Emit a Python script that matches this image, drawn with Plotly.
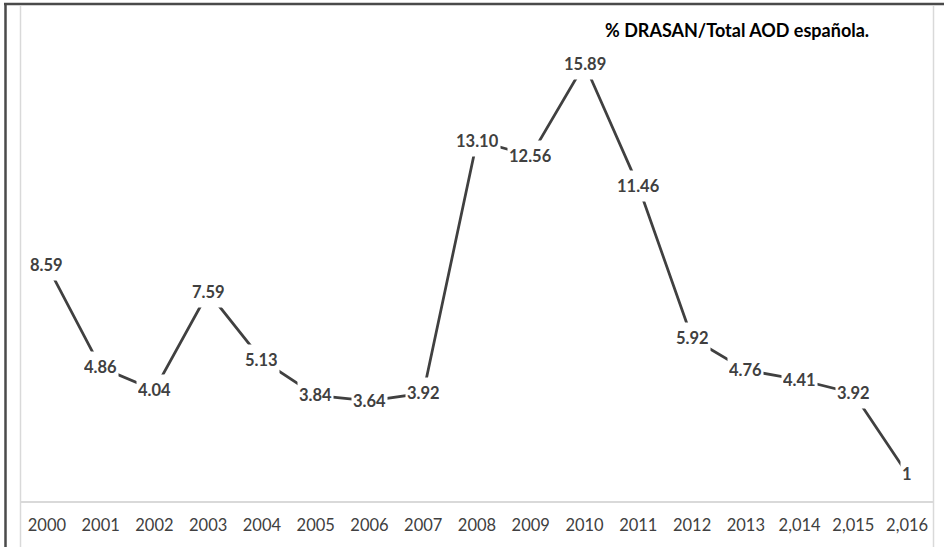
import plotly.graph_objects as go

years = ["2000", "2001", "2002", "2003", "2004", "2005", "2006", "2007", "2008",
         "2009", "2010", "2011", "2012", "2013", "2,014", "2,015", "2,016"]
values = [8.59, 4.86, 4.04, 7.59, 5.13, 3.84, 3.64, 3.92, 13.10,
          12.56, 15.89, 11.46, 5.92, 4.76, 4.41, 3.92, 1]
labels = ["8.59", "4.86", "4.04", "7.59", "5.13", "3.84", "3.64", "3.92", "13.10",
          "12.56", "15.89", "11.46", "5.92", "4.76", "4.41", "3.92", "1"]
title_text = "% DRASAN/Total AOD española."

W, H = 944, 547
ML, MR, MT, MB = 20, 10, 6, 46
pw = W - ML - MR
ph = H - MT - MB

def px_x(p):
    return (p - ML) / pw

def px_y(p):
    return (H - MB - p) / ph

fig = go.Figure()
fig.add_trace(go.Scatter(
    x=years, y=values, mode="lines",
    line=dict(color="#404040", width=2.75),
    hoverinfo="skip", showlegend=False,
))

annotations = []
# on a category axis, annotation x is the category's serial index
for i, (y, t) in enumerate(zip(values, labels)):
    annotations.append(dict(
        x=i, y=y, xref="x", yref="y", text=t, showarrow=False,
        font=dict(family="Lato", size=16.5, color="#404040", weight="bold"),
        bgcolor="white", borderpad=1, height=28,
    ))
annotations.append(dict(
    x=px_x(736.5), y=px_y(30), xref="paper", yref="paper", text=title_text,
    showarrow=False, xanchor="center", yanchor="middle",
    font=dict(family="Lato", size=18, color="#000000", weight="bold"),
))

shapes = [
    dict(type="line", xref="paper", yref="paper", x0=px_x(20.5), x1=px_x(20.5),
         y0=px_y(6), y1=px_y(547), line=dict(color="#d9d9d9", width=1.5)),
    dict(type="line", xref="paper", yref="paper", x0=px_x(933.5), x1=px_x(933.5),
         y0=px_y(6), y1=px_y(547), line=dict(color="#d9d9d9", width=1.5)),
    dict(type="line", xref="paper", yref="paper", x0=px_x(4), x1=px_x(944),
         y0=px_y(4), y1=px_y(4), line=dict(color="#4a4a4a", width=2.5)),
    dict(type="line", xref="paper", yref="paper", x0=px_x(5.5), x1=px_x(5.5),
         y0=px_y(3), y1=px_y(547), line=dict(color="#4a4a4a", width=2.5)),
]

fig.update_layout(
    width=W, height=H,
    margin=dict(l=ML, r=MR, t=MT, b=MB),
    paper_bgcolor="white", plot_bgcolor="white",
    xaxis=dict(type="category", categoryorder="array", categoryarray=years,
               range=[-0.5, len(years) - 0.5],
               showgrid=False, zeroline=False,
               showline=True, linecolor="#d9d9d9", linewidth=1.5,
               ticks="", tickfont=dict(family="Lato", size=16.5, color="#404040"),
               ticklabelstandoff=8, fixedrange=True),
    yaxis=dict(range=[0, 18], showgrid=False, zeroline=False, showline=False,
               showticklabels=False, ticks="", fixedrange=True),
    annotations=annotations, shapes=shapes,
)

fig.write_html(
    "out.html",
    config={"displayModeBar": False},
    post_script="document.body.style.margin='0';document.body.style.overflow='hidden';",
)
